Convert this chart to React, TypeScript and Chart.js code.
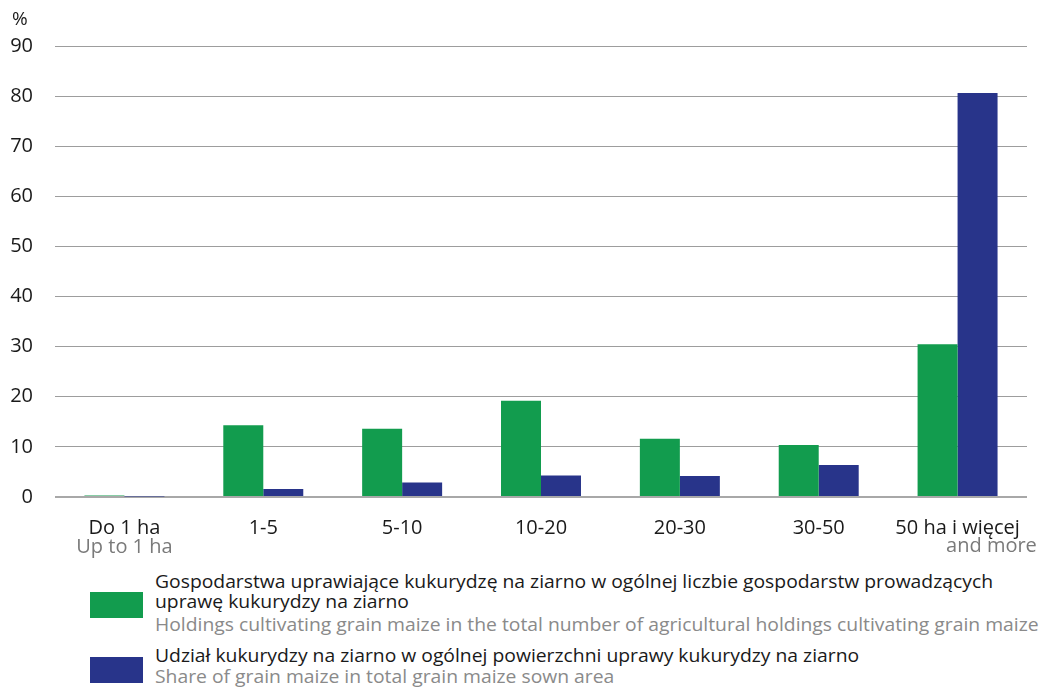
import React, { useEffect, useLayoutEffect, useRef, useState } from "react";
import { Chart, registerables } from "chart.js";

Chart.register(...registerables);

const categories = ["Do 1 ha", "1-5", "5-10", "10-20", "20-30", "30-50", "50 ha i więcej"];
const subLabels = ["Up to 1 ha", "", "", "", "", "", "and more"];
const holdingsShare = [0.3, 14.3, 13.6, 19.2, 11.6, 10.4, 30.5];
const areaShare = [0.1, 1.6, 2.9, 4.3, 4.2, 6.4, 80.6];
const yTicks = [0, 10, 20, 30, 40, 50, 60, 70, 80, 90];

const legendPL1 = [
  "Gospodarstwa uprawiające kukurydzę na ziarno w ogólnej liczbie gospodarstw prowadzących",
  "uprawę kukurydzy na ziarno",
];
const legendEN1 = "Holdings cultivating grain maize in the total number of agricultural holdings cultivating grain maize";
const legendPL2 = "Udział kukurydzy na ziarno w ogólnej powierzchni uprawy kukurydzy na ziarno";
const legendEN2 = "Share of grain maize in total grain maize sown area";

const GREEN = "#129c4e";
const BLUE = "#28348a";
const FONT = "'Open Sans', 'Noto Sans', sans-serif";
const TICK_SIZE = 20;

const extraText = {
  id: "extraText",
  afterDraw(chart: any) {
    const ctx = chart.ctx;
    const xs = chart.scales.x;
    ctx.save();
    ctx.font = `19px ${FONT}`;
    ctx.fillStyle = "#1a1a1a";
    ctx.textAlign = "left";
    ctx.textBaseline = "alphabetic";
    ctx.fillText("%", 12, 25);
    ctx.fillStyle = "#7a7a7a";
    ctx.font = `${TICK_SIZE}px ${FONT}`;
    subLabels.forEach((s, i) => {
      if (!s) return;
      const x = xs.getPixelForTick(i);
      if (i === subLabels.length - 1) {
        const w = ctx.measureText(categories[i]).width;
        ctx.textAlign = "right";
        ctx.fillText(s, x + w / 2 + 17, 552);
      } else {
        ctx.textAlign = "center";
        ctx.fillText(s, x, 553);
      }
    });
    ctx.restore();
  },
};

export default function App() {
  const ref = useRef<HTMLCanvasElement>(null);
  const measRef = useRef<HTMLSpanElement>(null);
  const [sx, setSx] = useState(1);

  useLayoutEffect(() => {
    if (measRef.current) {
      const w = measRef.current.getBoundingClientRect().width;
      if (w > 0) setSx(838 / w);
    }
  }, []);

  useEffect(() => {
    if (!ref.current) return;
    const chart = new Chart(ref.current, {
      type: "bar",
      data: {
        labels: categories,
        datasets: [
          { label: legendPL1.join(" "), data: holdingsShare, backgroundColor: GREEN },
          { label: legendPL2, data: areaShare, backgroundColor: BLUE },
        ],
      },
      options: {
        animation: false,
        responsive: false,
        devicePixelRatio: 1,
        layout: { padding: { top: 46, right: 21, bottom: 0, left: 0 } },
        datasets: { bar: { categoryPercentage: 0.576, barPercentage: 1.0 } },
        plugins: { legend: { display: false }, tooltip: { enabled: false } },
        scales: {
          x: {
            grid: { display: false },
            border: { display: false },
            ticks: { font: { family: FONT, size: TICK_SIZE }, color: "#1a1a1a", padding: 11, maxRotation: 0 },
            afterFit: (s: any) => {
              s.height = 63;
            },
          },
          y: {
            min: 0,
            max: 90,
            afterBuildTicks: (s: any) => {
              s.ticks = yTicks.map((v) => ({ value: v }));
            },
            ticks: { font: { family: FONT, size: TICK_SIZE }, color: "#1a1a1a", padding: 22 },
            grid: {
              drawTicks: false,
              color: (c: any) => (c.tick && c.tick.value === 0 ? "#a8a8a8" : "#9d9d9d"),
              lineWidth: (c: any) => (c.tick && c.tick.value === 0 ? 2 : 1),
            },
            border: { display: false },
            afterFit: (s: any) => {
              s.width = 55;
            },
          },
        },
      },
      plugins: [extraText],
    });
    return () => chart.destroy();
  }, []);

  const lineStyle = (top: number, color: string): React.CSSProperties => ({
    position: "absolute",
    left: 155,
    top,
    fontFamily: FONT,
    fontSize: 18,
    lineHeight: "20px",
    color,
    whiteSpace: "nowrap",
    transform: `scaleX(${sx})`,
    transformOrigin: "left top",
  });

  return (
    <div style={{ position: "absolute", left: 0, top: 0, width: 1048, height: 690, background: "#fff", overflow: "hidden" }}>
      <canvas ref={ref} width={1048} height={560} style={{ position: "absolute", left: 0, top: 0, width: 1048, height: 560 }} />
      <span
        ref={measRef}
        style={{ position: "absolute", left: 0, top: -100, fontFamily: FONT, fontSize: 18, whiteSpace: "nowrap", visibility: "hidden" }}
      >
        {legendPL1[0]}
      </span>
      <div style={{ position: "absolute", left: 90, top: 592, width: 53, height: 26, background: GREEN }} />
      <div style={{ position: "absolute", left: 90, top: 657, width: 53, height: 26, background: BLUE }} />
      <div style={lineStyle(571, "#1a1a1a")}>{legendPL1[0]}</div>
      <div style={lineStyle(591, "#1a1a1a")}>{legendPL1[1]}</div>
      <div style={lineStyle(614, "#8a8a8a")}>{legendEN1}</div>
      <div style={lineStyle(645, "#1a1a1a")}>{legendPL2}</div>
      <div style={lineStyle(666, "#8a8a8a")}>{legendEN2}</div>
    </div>
  );
}
